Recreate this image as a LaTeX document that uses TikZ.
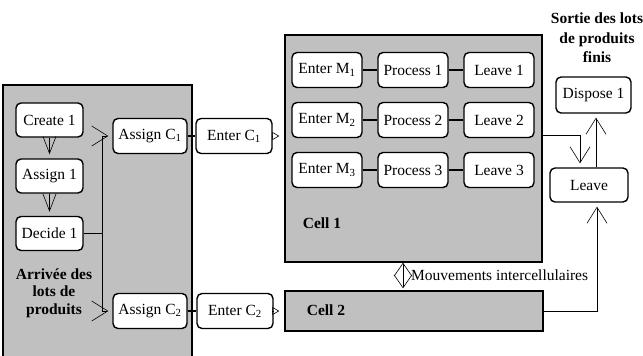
\documentclass[tikz,border=0pt]{standalone}
\usepackage{fontspec}
\setmainfont{Liberation Serif}
\usetikzlibrary{arrows.meta}
\definecolor{panelgray}{RGB}{192,192,192}

\begin{document}
\begin{tikzpicture}[x=1pt,y=-1pt,
  blok/.style={draw,fill=white,line width=1.4pt,rounded corners=5pt,minimum height=35pt,inner sep=0pt,font=\fontsize{15.5}{17.5}\selectfont},
  panel/.style={draw,fill=panelgray,line width=1.4pt,inner sep=0pt},
  lbl/.style={inner sep=0pt,font=\bfseries\fontsize{15.5}{17.5}\selectfont},
  link/.style={line width=1.2pt},
  flow/.style={line width=0.6pt,-{Straight Barb[length=16pt,width=20pt]},shorten >=4pt},
  drop/.style={line width=0.6pt,-{Straight Barb[length=17pt,width=13pt]},shorten >=4pt},
  entry/.style={line width=0.6pt,-{Triangle[open,length=7pt,width=8pt]},shorten >=5pt},
  twoway/.style={line width=0.6pt,{Straight Barb[length=13pt,width=18pt]}-{Straight Barb[length=13pt,width=18pt]},shorten >=2pt}]
  \useasboundingbox (0,0) rectangle (643,356);

  %パネル
  \node[panel,minimum width=189pt,minimum height=276pt] (arrivee) at (97.5,223) {};
  \node[panel,minimum width=257pt,minimum height=227pt] (cell1) at (413.5,148.5) {};
  \node[panel,minimum width=258pt,minimum height=40pt] (cell2) at (414,311) {};

  %到着
  \node[blok,minimum width=67pt,minimum height=34pt] (create) at (49.5,120) {Create 1};
  \node[blok,minimum width=67pt,minimum height=34pt] (assign) at (49.5,176) {Assign 1};
  \node[blok,minimum width=67pt,minimum height=34pt] (decide) at (49.5,233.5) {Decide 1};
  \node[lbl,align=center] (arrlabel) at (54,293) {Arrivée des\\lots de\\produits};

  \node[blok,minimum width=74pt] (assignc1) at (150,136) {Assign C\textsubscript{1}};
  \node[blok,minimum width=74pt] (assignc2) at (150,311) {Assign C\textsubscript{2}};
  \node[blok,minimum width=76pt] (enterc1) at (234,136) {Enter C\textsubscript{1}};
  \node[blok,minimum width=76pt] (enterc2) at (235,311) {Enter C\textsubscript{2}};

  %セル
  \foreach \i/\y in {1/70,2/120,3/170}{
    \node[blok,minimum width=70pt] (enterm\i) at (327,\y) {Enter M\textsubscript{\i}};
    \node[blok,minimum width=70pt] (process\i) at (413,\y) {Process \i};
    \node[blok,minimum width=70pt] (leave\i) at (499,\y) {Leave \i};
    \draw[link] (enterm\i) -- (process\i);
    \draw[link] (process\i) -- (leave\i);
  }
  \node[lbl] (celllabel1) at (322,223) {Cell 1};
  \node[lbl] (celllabel2) at (326,310) {Cell 2};

  %出口
  \node[lbl,align=center,font=\bfseries\fontsize{15.5}{19.5}\selectfont] (sortie) at (597,38) {Sortie des lots\\de produits\\finis};
  \node[blok,minimum width=75pt,minimum height=36pt] (dispose) at (593.5,95) {Dispose 1};
  \node[blok,minimum width=78pt,minimum height=34pt] (leave) at (589,185) {Leave};

  %矢印
  \draw[drop] (create) -- (assign);
  \draw[drop] (assign) -- (decide);
  \coordinate (split) at (102,233.5);
  \draw[link] (decide.east) -- (split);
  \draw[flow] (split) |- (assignc1.west);
  \draw[flow] (split) |- (assignc2.west);
  \draw[link] (assignc1) -- (enterc1);
  \draw[link] (assignc2) -- (enterc2);
  \draw[entry] (enterc1) -- (enterc1 -| cell1.west);
  \draw[entry] (enterc2) -- (enterc2 -| cell2.west);
  \draw[flow] ([yshift=13.5pt]cell1.east) -| ([xshift=-9pt]leave.north);
  \draw[flow] (cell2.east) -| ([xshift=8pt]leave.south);
  \draw[flow] ([xshift=7pt]leave.north) -- ([xshift=7pt]leave.north |- dispose.south);

  %セル間
  \coordinate (mv) at (403,275);
  \draw[twoway] (mv |- cell1.south) -- (mv |- cell2.north);
  \node[anchor=west,inner sep=0pt,font=\fontsize{15.5}{17.5}\selectfont] (mvlabel) at (411,275) {Mouvements intercellulaires};
\end{tikzpicture}
\end{document}
